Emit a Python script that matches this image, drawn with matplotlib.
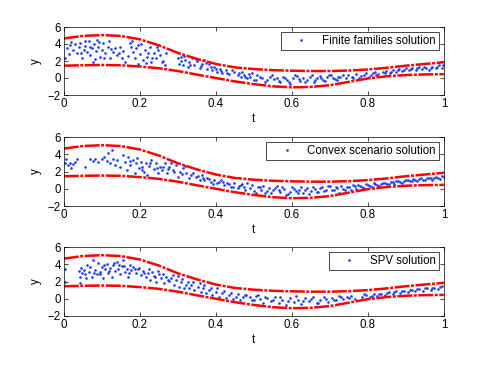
import matplotlib
matplotlib.use("Agg")
import matplotlib.pyplot as plt

plt.rcParams['font.family'] = ['Liberation Sans', 'DejaVu Sans']
plt.rcParams['font.size'] = 8.3

# Bounds (upper / lower envelopes)
t_bound = [0, .05, .1, .15, .2, .25, .3, .35, .4, .45, .5, .55, .6, .65, .7, .75, .8, .85, .9, .95, 1.0]
y_upper = [4.65, 4.95, 5.05, 4.95, 4.55, 3.85, 2.95, 2.25, 1.65, 1.25, 1.05, 0.92, 0.86, 0.82, 0.82, 0.88, 1.0, 1.2, 1.45, 1.65, 1.85]
y_lower = [1.45, 1.5, 1.53, 1.5, 1.35, 1.15, 0.82, 0.4, 0.0, -0.4, -0.72, -0.98, -1.1, -1.05, -0.85, -0.45, -0.05, 0.2, 0.35, 0.42, 0.45]

# Finite families solution
t_ff = [.004, .009, .013, .017, .024, .03, .035, .039, .043, .048, .052, .057, .061, .065, .07, .074, .077, .08,
        .085, .087, .091, .096, .1, .104, .109, .115, .122, .129, .135, .141, .148, .155, .161, .174, .178, .183,
        .187, .191, .196, .2, .204, .209, .213, .219, .226, .23, .237, .243, .248, .254, .261, .265,
        .3, .304, .309, .313, .32, .326, .33, .337, .343, .35, .357, .363, .37, .376, .383, .39, .396, .404,
        .41, .417, .426, .435, .448, .457, .47, .478,
        .474, .483, .491, .5, .509, .522, .53, .543, .552, .561, .57, .578, .587, .596, .604, .613, .622, .63,
        .639, .648, .657, .665, .674, .683, .693, .704, .713, .722, .735, .743, .757, .77, .778, .791, .804,
        .813, .822, .839, .848, .857, .865, .874, .883, .891, .9, .909, .917, .926, .935, .943, .952, .961,
        .97, .978, .987, .994,
        .02, .045, .055, .068, .082, .093, .105, .118, .125, .145, .152, .168, .18, .195, .215, .222, .233, .245,
        .258, .27, .307, .317, .333, .347, .36, .373, .388, .4, .414, .43, .442, .46, .465, .488, .495, .505,
        .515, .535, .548, .565, .583, .592, .608, .618, .635, .652, .66, .678, .688, .698, .708, .718, .728,
        .748, .762, .783, .796, .808, .818, .828, .845, .862, .879, .895, .913, .93, .947, .965, .982, .998]
y_ff = [2.3, 3.5, 2.8, 3.9, 3.3, 4.0, 2.9, 3.6, 4.1, 2.4, 3.3, 3.8, 3.1, 4.3, 2.7, 3.5, 1.85, 4.0,
        3.2, 4.5, 3.7, 2.5, 3.3, 4.1, 2.9, 3.6, 2.3, 3.1, 3.5, 2.7, 3.7, 3.2, 1.85, 4.1, 3.7, 3.1,
        2.3, 3.5, 1.7, 2.8, 4.0, 2.1, 3.3, 2.5, 3.7, 1.9, 3.0, 2.3, 3.3, 2.7, 2.0, 1.5,
        2.3, 1.7, 2.5, 1.5, 2.1, 1.3, 1.9, 2.4, 1.5, 2.0, 1.2, 1.7, 2.1, 1.1, 1.6, 0.95, 1.3, 0.75,
        1.1, 0.55, 0.95, 0.45, 0.7, 0.35, 0.75, 0.15,
        0.35, -0.05, 0.15, -0.25, 0.3, -0.05, -0.45, 0.15, -0.15, 0.05, -0.45, 0.15, -0.25, -0.65, -0.05, 0.25, -0.35, 0.05,
        -0.25, 0.15, -0.45, -0.05, 0.25, -0.25, 0.1, 0.35, -0.1, 0.15, 0.35, -0.05, 0.15, 0.45, 0.05, 0.35, 0.15,
        0.55, 0.35, 0.65, 0.8, 0.55, 0.95, 0.75, 1.05, 0.8, 1.15, 0.95, 1.2, 0.95, 1.35, 1.05, 1.2, 0.95,
        1.35, 1.15, 1.55, 1.2,
        4.2, 3.0, 4.4, 3.6, 2.2, 4.2, 2.4, 4.3, 3.4, 3.0, 2.4, 2.6, 4.3, 3.9, 1.8, 3.0, 2.3, 3.7,
        1.9, 2.9, 2.0, 2.6, 1.5, 2.2, 1.4, 1.8, 1.3, 1.05, 0.85, 0.6, 1.0, 0.6, 0.1, 0.45, 0.6, -0.2,
        0.1, -0.2, 0.4, -0.3, 0.0, -0.5, 0.3, -0.1, -0.45, 0.3, -0.2, 0.0, -0.35, 0.3, 0.0, -0.2, 0.1,
        0.3, 0.0, 0.2, 0.55, 0.4, 0.7, 0.5, 0.55, 0.7, 0.9, 0.95, 1.1, 1.15, 1.3, 1.2, 1.35, 1.5]

# Convex scenario solution
t_cs = [.004, .007, .01, .016, .019, .024, .03, .035, .057, .07, .077, .083, .091, .1, .106, .113, .117, .122,
        .126, .13, .135, .141, .148, .155, .161, .165, .17, .174, .181, .187, .191, .197, .202, .207, .21, .216,
        .219, .224, .23, .237, .242, .248, .254, .259, .265, .271, .277, .283, .287, .294, .3, .306, .313, .322,
        .33, .339, .348, .357, .363, .37, .378, .387, .396, .404, .413, .422, .43, .439, .448, .457, .465, .474,
        .483,
        .49, .5, .51, .52, .53, .54, .55, .56, .57, .58, .59, .6, .61, .62, .63, .64, .65, .66, .67, .68, .69,
        .7, .71, .72, .73, .74, .75, .76, .77, .78, .79, .8, .81, .82, .83, .84, .85, .86, .87, .88, .89, .9,
        .91, .92, .93, .94, .95, .96, .97, .98, .99, 1.0,
        .175, .193, .205, .228, .245, .262, .275, .29, .31, .318, .335, .352, .367, .383, .392, .409, .418,
        .435, .444, .46, .47, .478, .495, .505, .515, .525, .535, .545, .555, .565, .575, .585, .595, .605,
        .615, .625, .635, .645, .655, .665, .675, .685, .695, .705, .715, .725, .735, .745, .755, .765, .775,
        .785, .795, .805, .815, .825, .835, .845, .855, .865, .875, .885, .895, .905, .915, .925, .935, .945,
        .955, .965, .975, .985, .995]
y_cs = [2.95, 3.5, 2.75, 2.95, 2.4, 2.85, 3.15, 3.5, 2.55, 3.4, 3.25, 3.5, 3.15, 3.4, 3.7, 3.25, 4.1, 3.0,
        4.5, 3.5, 2.75, 3.3, 2.55, 3.9, 3.15, 2.2, 3.7, 2.75, 3.3, 1.8, 2.95, 2.4, 3.15, 2.55, 2.0, 2.95,
        1.6, 2.65, 3.3, 2.25, 2.95, 1.8, 2.55, 2.2, 2.95, 1.85, 2.5, 2.95, 2.2, 2.75, 1.4, 2.0, 2.35, 1.8,
        1.2, 1.85, 1.4, 1.0, 1.6, 1.0, 1.3, 0.8, 1.05, 0.65, 1.0, 0.45, 0.7, 0.25, 0.65, 0.05, 0.45, 0.2,
        0.65,
        0.1, -0.3, 0.2, -0.1, -0.5, 0.05, -0.2, 0.3, -0.4, -0.05, -0.6, 0.15, -0.3, -0.1, -0.5, 0.1, -0.25, 0.0, -0.4, 0.2, -0.1,
        0.3, -0.2, 0.05, 0.3, -0.1, 0.2, 0.4, 0.0, 0.3, 0.1, 0.45, 0.25, 0.55, 0.35, 0.7, 0.5, 0.8, 0.6, 0.9, 0.7, 1.0,
        0.85, 1.1, 0.9, 1.2, 1.0, 1.3, 1.05, 1.35, 1.15, 1.4,
        3.2, 3.6, 2.2, 3.0, 2.4, 2.5, 2.3, 1.9, 1.7, 2.6, 1.6, 1.5, 1.3, 1.1, 0.5, 0.8, 0.75,
        0.5, 0.2, 0.3, 0.6, -0.1, 0.4, -0.5, 0.15, 0.35, -0.3, -0.45, 0.1, -0.2, 0.25, -0.7, -0.35, 0.0,
        -0.55, 0.2, -0.15, -0.6, 0.25, -0.35, 0.1, -0.3, 0.35, -0.2, 0.15, -0.45, 0.0, 0.2, -0.1, 0.35, 0.45,
        0.2, 0.55, 0.3, 0.65, 0.4, 0.55, 0.7, 0.6, 0.75, 0.85, 0.8, 0.9, 1.05, 0.95, 1.0, 1.15, 1.05,
        1.25, 1.2, 1.3, 1.25, 1.5]

# SPV solution
t_spv = [.003, .003, .039, .042, .043, .048, .052, .059, .065, .07, .074, .078, .083, .087, .091, .096, .1, .104,
         .109, .113, .117, .122, .126, .13, .135, .139, .143, .148, .152, .157, .161, .165, .17, .174, .178, .183,
         .19, .196, .202, .209, .216, .222, .228, .233, .239, .243, .25, .257, .263, .27, .277, .283, .289, .296,
         .303, .309, .315, .322, .329, .335, .343, .352, .361, .367, .374, .383, .391, .4, .409, .417, .426, .435,
         .445, .454, .463, .471, .48,
         .49, .5, .505, .515, .525, .535, .545, .555, .565, .575, .585, .595, .605, .615, .625, .635, .645, .655,
         .665, .675, .685, .695, .705, .715, .725, .735, .745, .755, .765, .785, .795, .805, .815, .825, .835,
         .845, .855, .865, .875, .885, .895, .905, .915, .925, .935, .945, .955, .965, .975, .985, .995,
         .045, .056, .062, .08, .094, .107, .12, .132, .145, .159, .172, .186, .199, .212, .225, .236, .247,
         .26, .273, .286, .3, .312, .326, .34, .357, .37, .387, .404, .421, .44, .458, .476, .495, .51, .53,
         .55, .57, .59, .61, .63, .65, .67, .69, .71, .73, .75, .79, .81, .83, .85, .87, .89, .91, .93, .95,
         .97, .99]
y_spv = [3.5, 2.0, 3.2, 2.55, 1.8, 2.95, 3.35, 2.4, 3.15, 3.7, 2.55, 4.5, 3.35, 2.85, 4.1, 3.15, 3.7, 2.4,
         3.5, 4.0, 2.95, 3.6, 2.55, 3.9, 3.2, 4.3, 3.45, 2.85, 3.85, 4.5, 3.15, 3.5, 2.55, 3.9, 3.35, 3.7,
         2.95, 3.45, 2.75, 3.2, 2.55, 2.95, 2.2, 3.15, 2.55, 2.0, 2.85, 2.4, 1.8, 2.55, 2.05, 2.4, 1.6, 2.2,
         1.4, 1.9, 1.2, 1.65, 1.3, 1.6, 1.0, 1.4, 0.8, 1.2, 0.65, 1.0, 0.45, 0.8, 0.25, 0.65, 0.05, 0.45,
         0.0, 0.25, -0.15, 0.15, 0.45,
         0.2, -0.2, 0.35, -0.05, -0.45, 0.1, -0.3, 0.25, -0.55, -0.1, -0.7, 0.05, -0.4, -0.15, -0.65, 0.1, -0.3, 0.2,
         -0.5, -0.1, 0.25, -0.35, 0.05, -0.2, 0.3, -0.05, 0.15, 0.35, 0.0, 0.25, 0.4, 0.2, 0.55, 0.35, 0.6,
         0.45, 0.75, 0.55, 0.85, 0.65, 0.95, 0.75, 1.05, 0.85, 1.15, 0.9, 1.25, 1.0, 1.3, 1.1, 1.45,
         3.6, 2.9, 3.9, 3.0, 2.9, 3.9, 3.2, 4.1, 3.9, 3.8, 3.0, 3.4, 3.6, 3.0, 3.4, 2.6, 3.2,
         2.9, 2.2, 2.8, 2.6, 2.3, 1.9, 2.0, 1.8, 1.6, 1.3, 1.2, 0.9, 0.7, 0.6, 0.4, -0.1, 0.4, 0.2,
         -0.2, 0.15, -0.3, 0.3, -0.25, 0.0, -0.45, 0.0, -0.1, 0.2, 0.1, 0.5, 0.3, 0.5, 0.65, 0.75, 0.85, 1.0,
         1.1, 1.2, 1.25, 1.35]

panels = [
    (t_ff, y_ff, 'Finite families solution'),
    (t_cs, y_cs, 'Convex scenario solution'),
    (t_spv, y_spv, 'SPV solution'),
]
positions = [
    [0.130, 1 - 95 / 369, 0.774, 68 / 369],
    [0.130, 1 - 206 / 369, 0.774, 69 / 369],
    [0.130, 1 - 316 / 369, 0.774, 69 / 369],
]

fig = plt.figure(figsize=(4.91, 3.69), dpi=100)
for (tt, yy, label), pos in zip(panels, positions):
    ax = fig.add_axes(pos)
    h, = ax.plot(tt, yy, 'o', color='#1a3cff', markersize=1.9, markeredgewidth=0,
                 linestyle='none', label=label)
    ax.plot(t_bound, y_upper, color='r', linewidth=1.8, linestyle=(0, (6, 0.6, 1.2, 0.6)))
    ax.plot(t_bound, y_lower, color='r', linewidth=1.8, linestyle=(0, (6, 0.6, 1.2, 0.6)))
    ax.set_xlim(0, 1)
    ax.set_ylim(-2, 6)
    ax.set_xticks([0, 0.2, 0.4, 0.6, 0.8, 1])
    ax.set_xticklabels(['0', '0.2', '0.4', '0.6', '0.8', '1'])
    ax.set_yticks([-2, 0, 2, 4, 6])
    ax.tick_params(direction='in', top=True, right=True, length=3, width=0.5, pad=2, labelsize=8.3)
    for s in ax.spines.values():
        s.set_linewidth(0.5)
    ax.set_xlabel('t', labelpad=2)
    ax.set_ylabel('y', labelpad=4)
    leg = ax.legend(handles=[h], loc='upper right', fancybox=False, framealpha=1,
                    edgecolor='k', borderaxespad=0.45, borderpad=0.25, handlelength=3,
                    handletextpad=0.3, markerscale=1.0, fontsize=8.3)
    leg.get_frame().set_linewidth(0.5)

fig.savefig('out.png', dpi=100)
